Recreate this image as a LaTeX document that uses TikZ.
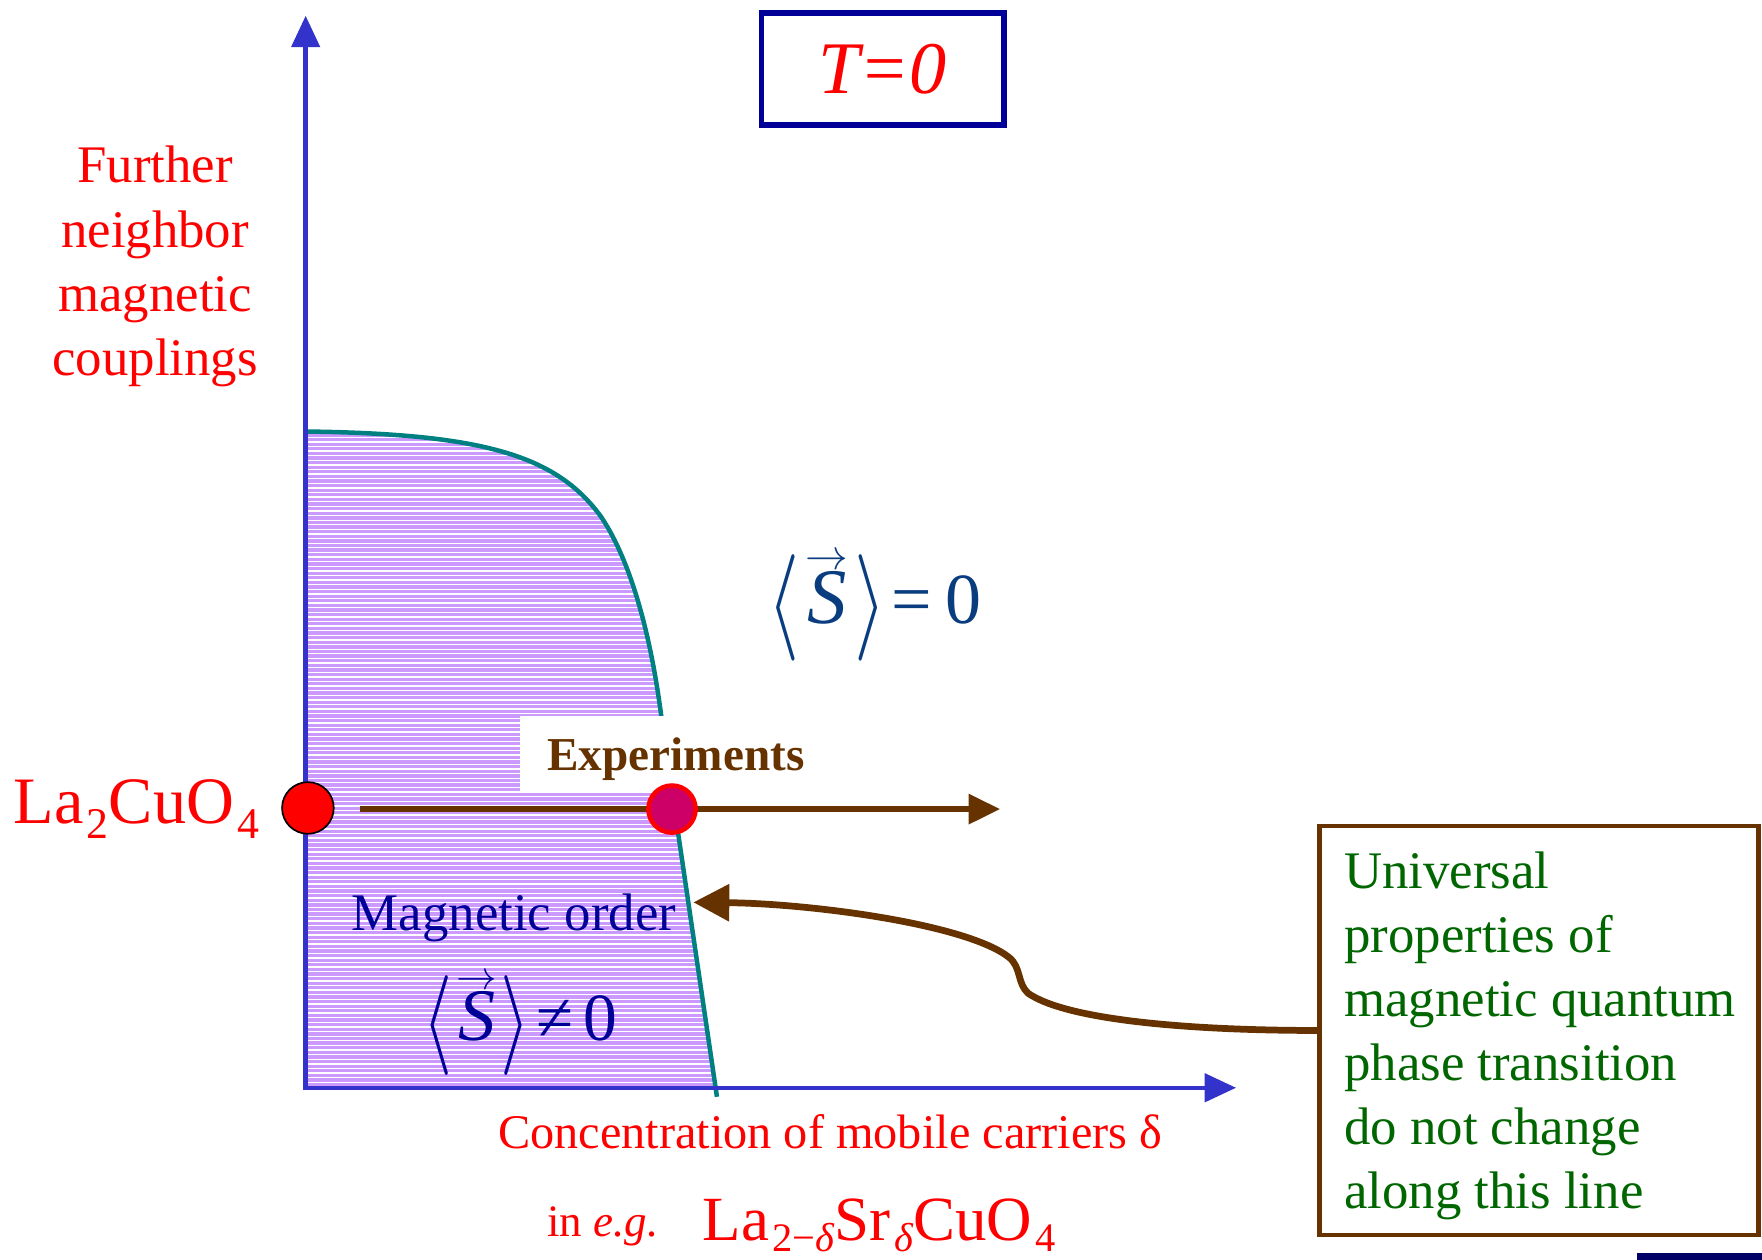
\RequirePackage{fix-cm}
\documentclass[tikz,border=0pt]{standalone}
\usepackage{fontspec}
\setmainfont{Liberation Serif}
\usetikzlibrary{arrows.meta}
\definecolor{axisblue}{HTML}{3333CC}
\definecolor{navyframe}{HTML}{000099}
\definecolor{navytext}{HTML}{000099}
\definecolor{steeltext}{HTML}{0A3D80}
\definecolor{orderfill}{HTML}{CC99FF}
\definecolor{phaseline}{HTML}{008080}
\definecolor{expbrown}{HTML}{663300}
\definecolor{univgreen}{HTML}{006600}
\definecolor{dotcrimson}{HTML}{CC0066}
\definecolor{barnavy}{HTML}{000066}
\newcommand\fsz[2]{\fontsize{#1}{#2}\selectfont}
\newcommand\chemsub[3]{\hspace{3pt}\raisebox{-#2pt}{\fsz{#1}{#1}#3}}
\newcommand\angl{\raisebox{-0.15em}{\scalebox{1.15}[1.48]{$\left\langle\rule[-0.55em]{0pt}{1.5em}\right.$}}}
\newcommand\angr{\raisebox{-0.15em}{\scalebox{1.15}[1.48]{$\left.\rule[-0.55em]{0pt}{1.5em}\right\rangle$}}}
\newcommand\vecS[2]{$\mathop{\hbox{\fsz{#1}{#1}\itshape S}}\limits^{\hbox{\fsz{#2}{#2}$\rightarrow$}}$}
\begin{document}
\begin{tikzpicture}[x=1pt,y=-1pt,
  axisline/.style={draw=axisblue, line width=4pt, line join=miter,
    {Triangle[length=28pt,width=25pt]}-{Triangle[length=28pt,width=25pt]}},
  redlabel/.style={text=red, inner sep=0pt},
  exparrow/.style={draw=expbrown, line width=5pt, -{Triangle[length=28pt,width=26pt]}},
  curlyarrow/.style={draw=expbrown, line width=6pt, -{Triangle[length=32pt,width=32pt]}},
  dotstyle/.style={circle, inner sep=0pt}
]
\useasboundingbox (0,0) rectangle (1568,1121);
\fill[white] (0,0) rectangle (1568,1121);

% ordered region
\fill[orderfill] (272,384) .. controls (430,386) and (495,405) .. (535,460)
  .. controls (565,505) and (582,580) .. (590,650) -- (637,968) -- (272,968) -- cycle;
\begin{scope}
  \clip (272,384) .. controls (430,386) and (495,405) .. (535,460)
  .. controls (565,505) and (582,580) .. (590,650) -- (637,968) -- (272,968) -- cycle;
  \foreach \yy in {385,389.1,...,968} {
    \draw[white, line width=1.2pt] (270,\yy) -- (650,\yy);
  }
\end{scope}
\draw[phaseline, line width=4pt] (272,384) .. controls (430,386) and (495,405) .. (535,460)
  .. controls (565,505) and (582,580) .. (590,650) -- (638,976);

% Experiments label with white background
\node[fill=white, inner sep=0pt, minimum width=278pt, minimum height=68pt] (expbox) at (602,671) {};
\node[anchor=base west, inner sep=0pt, text=expbrown, font=\fsz{42}{50}\bfseries] (explabel) at (487,686) {Experiments};

% axes
\coordinate (origin) at (272,968);
\coordinate (ytop) at (272,14);
\coordinate (xend) at (1100,968);
\draw[axisline] (ytop) -- (origin) -- (xend);

% T=0 box
\node[draw=navyframe, line width=5pt, minimum width=216pt, minimum height=100pt, inner sep=0pt,
  text=red, font=\fsz{66}{70}\itshape] (tzero) at (785.5,61.5) {T=0};

% y label
\node[redlabel, anchor=north, align=center, font=\fsz{47}{57}] (ylab) at (138,130)
  {Further\\neighbor\\magnetic\\couplings};

% experiments arrow
\coordinate (expstart) at (320,720);
\coordinate (expend) at (890,720);
\draw[exparrow] (expstart) -- (expend);

% dots
\node[dotstyle, fill=red, draw=black, line width=1.5pt, minimum size=46pt] (ladot) at (274,719) {};
\node[dotstyle, fill=dotcrimson, draw=red, line width=4pt, minimum size=42pt] (qcpdot) at (598,720) {};

% La2CuO4
\node[redlabel, anchor=base east, font=\fsz{59}{68}] (lacuo) at (231,733)
  {La\chemsub{39}{13}{2}CuO\chemsub{39}{13}{4}};

% phase labels
\node[anchor=base west, inner sep=0pt, text=navytext, font=\fsz{47}{56}] (magorder) at (313,828) {Magnetic order};
\node[anchor=base west, inner sep=0pt, text=navytext, font=\fsz{60}{70}] (snonzero) at (376,926)
  {\angl\hspace{2pt}\vecS{66}{36}\hspace{2pt}\angr\hspace{5pt}≠\hspace{9pt}0};
\node[anchor=base west, inner sep=0pt, text=steeltext, font=\fsz{64}{74}] (szero) at (683,555)
  {\angl\hspace{4pt}\vecS{70}{38}\hspace{4pt}\angr\hspace{4pt}=\hspace{12pt}0};

% x label
\node[redlabel, anchor=base west, font=\fsz{43}{50}] (xlab) at (443,1022)
  {Concentration of mobile carriers δ};
\node[redlabel, anchor=base west, font=\fsz{40}{46}] (ineg) at (487,1100)
  {in \textit{e.g.}};
\node[redlabel, anchor=base west, font=\fsz{56}{62}] (lasr) at (625,1104)
  {La\chemsub{36}{10}{2−\textit{δ}}Sr\chemsub{36}{10}{\textit{δ}}CuO\chemsub{36}{10}{4}};

% universal box
\node[draw=expbrown, line width=4pt, minimum width=391pt, minimum height=364pt, inner sep=0pt] (univ) at (1369.5,917) {};
\node[anchor=north west, inner sep=0pt, align=left, text=univgreen, font=\fsz{47}{57}] (univtext) at (1196,758)
  {Universal\\properties of\\magnetic quantum\\phase transition\\do not change\\along this line};

% curly connector
\coordinate (curlend) at (617,803);
\draw[curlyarrow] (univ.west) .. controls (1060,917) and (950,908) .. (915,884)
  .. controls (905,875) and (909,861) .. (898,852)
  .. controls (860,822) and (720,804) .. (curlend);

% partial bar at bottom right
\fill[barnavy] (1457,1115) rectangle (1568,1121);
\end{tikzpicture}
\end{document}
